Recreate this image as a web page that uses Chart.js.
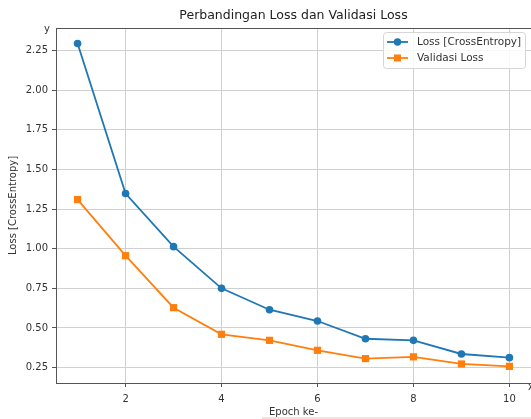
<!DOCTYPE html>
<html>
<head>
<meta charset="utf-8">
<script src="https://cdn.jsdelivr.net/npm/chart.js@4"></script>
<style>
html,body{margin:0;padding:0;background:#fff}
</style>
</head>
<body>
<canvas id="lossChart" width="531" height="419"></canvas>
<script>
// data ------------------------------------------->
const epochs = [1,2,3,4,5,6,7,8,9,10]
const lossValues = [2.294,1.348,1.013,0.750,0.615,0.544,0.432,0.422,0.336,0.313]
const valLossValues = [1.310,0.956,0.628,0.460,0.422,0.359,0.307,0.318,0.273,0.258]
const xTicks = [2,4,6,8,10]
const yTicks = [0.25,0.50,0.75,1.00,1.25,1.50,1.75,2.00,2.25]

const FONT = 'DejaVu Sans'
const blue = '#1f77b4'
const orange = '#ff7f0e'

// frame, y/x marks, legend box drawn by hand
const framePlugin = {
    id:'frame',
    beforeDraw(chart){
        let ctx = chart.ctx
        ctx.save()
        ctx.fillStyle = '#fff'
        ctx.fillRect(0,0,chart.width,chart.height)
        ctx.restore()
    },
    afterDatasetsDraw(chart){
        let ctx = chart.ctx
        let a = chart.chartArea
        ctx.save()
        // top spine
        ctx.strokeStyle = '#555'
        ctx.lineWidth = 1
        ctx.beginPath()
        ctx.moveTo(a.left, a.top + 0.5)
        ctx.lineTo(a.right, a.top + 0.5)
        ctx.stroke()

        // axis letters
        ctx.fillStyle = '#333'
        ctx.font = '10px ' + FONT
        ctx.textAlign = 'right'
        ctx.textBaseline = 'middle'
        ctx.fillText('y', a.left - 6, a.top + 1)
        ctx.textAlign = 'left'
        ctx.fillText('x', a.right - 3, a.bottom + 4)

        // legend
        let bx = a.right - 148, by = a.top + 4, bw = 142, bh = 36
        ctx.fillStyle = 'rgba(255,255,255,0.85)'
        ctx.strokeStyle = '#d6d6d6'
        ctx.beginPath()
        ctx.roundRect(bx + 0.5, by + 0.5, bw, bh, 3)
        ctx.fill()
        ctx.stroke()
        ctx.font = '10.5px ' + FONT
        ctx.textBaseline = 'middle'
        chart.data.datasets.forEach((ds,i)=>{
            let y = by + 10 + i * 16
            ctx.strokeStyle = ds.borderColor
            ctx.lineWidth = 1.8
            ctx.beginPath()
            ctx.moveTo(bx + 4, y)
            ctx.lineTo(bx + 25, y)
            ctx.stroke()
            ctx.fillStyle = ds.borderColor
            if (ds.pointStyle == 'rect') {
                ctx.fillRect(bx + 14.5 - 3.5, y - 3.5, 7, 7)
            } else {
                ctx.beginPath()
                ctx.arc(bx + 14.5, y, 3.7, 0, Math.PI*2)
                ctx.fill()
            }
            ctx.fillStyle = '#333'
            ctx.textAlign = 'left'
            ctx.fillText(ds.label, bx + 34, y)
        })

        // pink underline artifact
        ctx.fillStyle = '#fbdde0'
        ctx.fillRect(262, chart.height - 2, chart.width - 262, 2)
        ctx.restore()
    }
}

let ctx = document.getElementById('lossChart').getContext('2d')

let lossChart = new Chart(ctx,{
    type:'line',
    data:{
        datasets:[{
            label:'Loss [CrossEntropy]',
            data: epochs.map((e,i)=>({x:e, y:lossValues[i]})),
            borderColor: blue,
            backgroundColor: blue,
            borderWidth: 1.8,
            pointStyle:'circle',
            pointRadius: 3.8,
            pointBorderWidth: 0,
            pointHoverRadius: 3.8
        },{
            label:'Validasi Loss',
            data: epochs.map((e,i)=>({x:e, y:valLossValues[i]})),
            borderColor: orange,
            backgroundColor: orange,
            borderWidth: 1.8,
            pointStyle:'rect',
            pointRadius: 5.1,
            pointBorderWidth: 0,
            pointHoverRadius: 5.1
        }]
    },
    options:{
        responsive:false,
        animation:false,
        devicePixelRatio:1,
        layout:{autoPadding:false, padding:0},
        plugins:{
            legend:{display:false},
            tooltip:{enabled:false},
            title:{
                display:true,
                text:'Perbandingan Loss dan Validasi Loss',
                fullSize:false,
                color:'#222',
                font:{family:FONT, size:12.5, weight:'normal'},
                padding:{top:8,bottom:5}
            }
        },
        scales:{
            x:{
                type:'linear',
                min:0.55,
                max:10.45,
                afterBuildTicks: s => { s.ticks = xTicks.map(v=>({value:v})) },
                afterFit: s => { s.height = 36; s.paddingLeft = 0; s.paddingRight = 0 },
                ticks:{color:'#333', font:{family:FONT,size:10}, padding:6, callback: v => v},
                grid:{color:'#d0d0d0', tickColor:'#555', tickLength:4},
                border:{color:'#555', width:1},
                title:{display:true, text:'Epoch ke-', color:'#333', font:{family:FONT,size:10}, padding:{top:2,bottom:1}}
            },
            y:{
                type:'linear',
                min:0.153,
                max:2.392,
                afterBuildTicks: s => { s.ticks = yTicks.map(v=>({value:v})) },
                afterFit: s => { s.width = 56 },
                ticks:{color:'#333', font:{family:FONT,size:10}, padding:4, callback: v => v.toFixed(2)},
                grid:{color:'#d0d0d0', tickColor:'#555', tickLength:4},
                border:{color:'#555', width:1},
                title:{display:true, text:'Loss [CrossEntropy]', color:'#333', font:{family:FONT,size:10}, padding:{top:7,bottom:2}}
            }
        }
    },
    plugins:[framePlugin]
})
</script>
</body>
</html>
